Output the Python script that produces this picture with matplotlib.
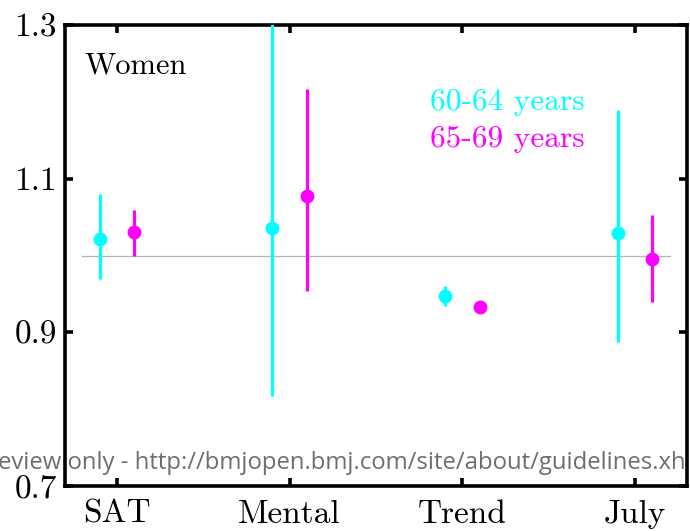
import matplotlib
matplotlib.use("Agg")
import matplotlib.pyplot as plt
import numpy as np

# Odds ratios with 95% confidence intervals, women
categories = ["SAT", "Mental", "Trend", "July"]
group_labels = ["60-64 years", "65-69 years"]
or_60_64 = [1.022, 1.036, 0.947, 1.029]
lo_60_64 = [0.969, 0.817, 0.934, 0.888]
hi_60_64 = [1.080, 1.320, 0.960, 1.189]
or_65_69 = [1.030, 1.077, 0.933, 0.996]
lo_65_69 = [0.999, 0.954, 0.931, 0.940]
hi_65_69 = [1.059, 1.217, 0.935, 1.053]
y_ticks = [0.7, 0.9, 1.1, 1.3]

CYAN = "#00FFFF"
MAGENTA = "#FF00FF"
serif = ["cmr10", "DejaVu Serif"]

fig = plt.figure(figsize=(6.9, 5.31), dpi=100)
ax = fig.add_axes([0.0942, 0.0847, 0.9015, 0.8682])

x = np.arange(1, len(categories) + 1)
off = 0.1
ax.plot([0.8, 4.2], [1.0, 1.0], color="#b4b4b4", lw=0.9, zorder=1)

for xs, est, lo, hi, col in [
    (x - off, or_60_64, lo_60_64, hi_60_64, CYAN),
    (x + off, or_65_69, lo_65_69, hi_65_69, MAGENTA),
]:
    est = np.array(est)
    yerr = [est - np.array(lo), np.array(hi) - est]
    ax.errorbar(xs, est, yerr=yerr, fmt="o", color=col, ms=10, elinewidth=2.3,
                capsize=0, mew=0, zorder=3)

ax.set_xlim(0.7, 4.3)
ax.set_ylim(0.7, 1.3)
ax.set_xticks(x)
ax.set_xticklabels(categories, family=serif, fontsize=24)
ax.set_yticks(y_ticks)
ax.set_yticklabels([f"{v:.1f}" for v in y_ticks], family=serif, fontsize=24)
ax.tick_params(direction="in", length=6, width=2.6, top=True, right=True,
               pad=6)
ax.tick_params(axis="x", pad=10)
for s in ax.spines.values():
    s.set_linewidth(2.6)

ax.text(0.815, 1.247, "Women", family=serif, fontsize=22, va="center", ha="left")
ax.text(2.81, 1.199, group_labels[0], family=serif, fontsize=22.6, color=CYAN,
        va="center", ha="left")
ax.text(2.81, 1.151, group_labels[1], family=serif, fontsize=22.6, color=MAGENTA,
        va="center", ha="left")

fig.text(-0.003, 1 - 463 / 531, "eview only - http://bmjopen.bmj.com/site/about/guidelines.xh",
         family=["Open Sans", "DejaVu Sans"], fontsize=17.2, color="#6e6e6e",
         ha="left", va="center", zorder=10)

fig.savefig("out.png", dpi=100)
